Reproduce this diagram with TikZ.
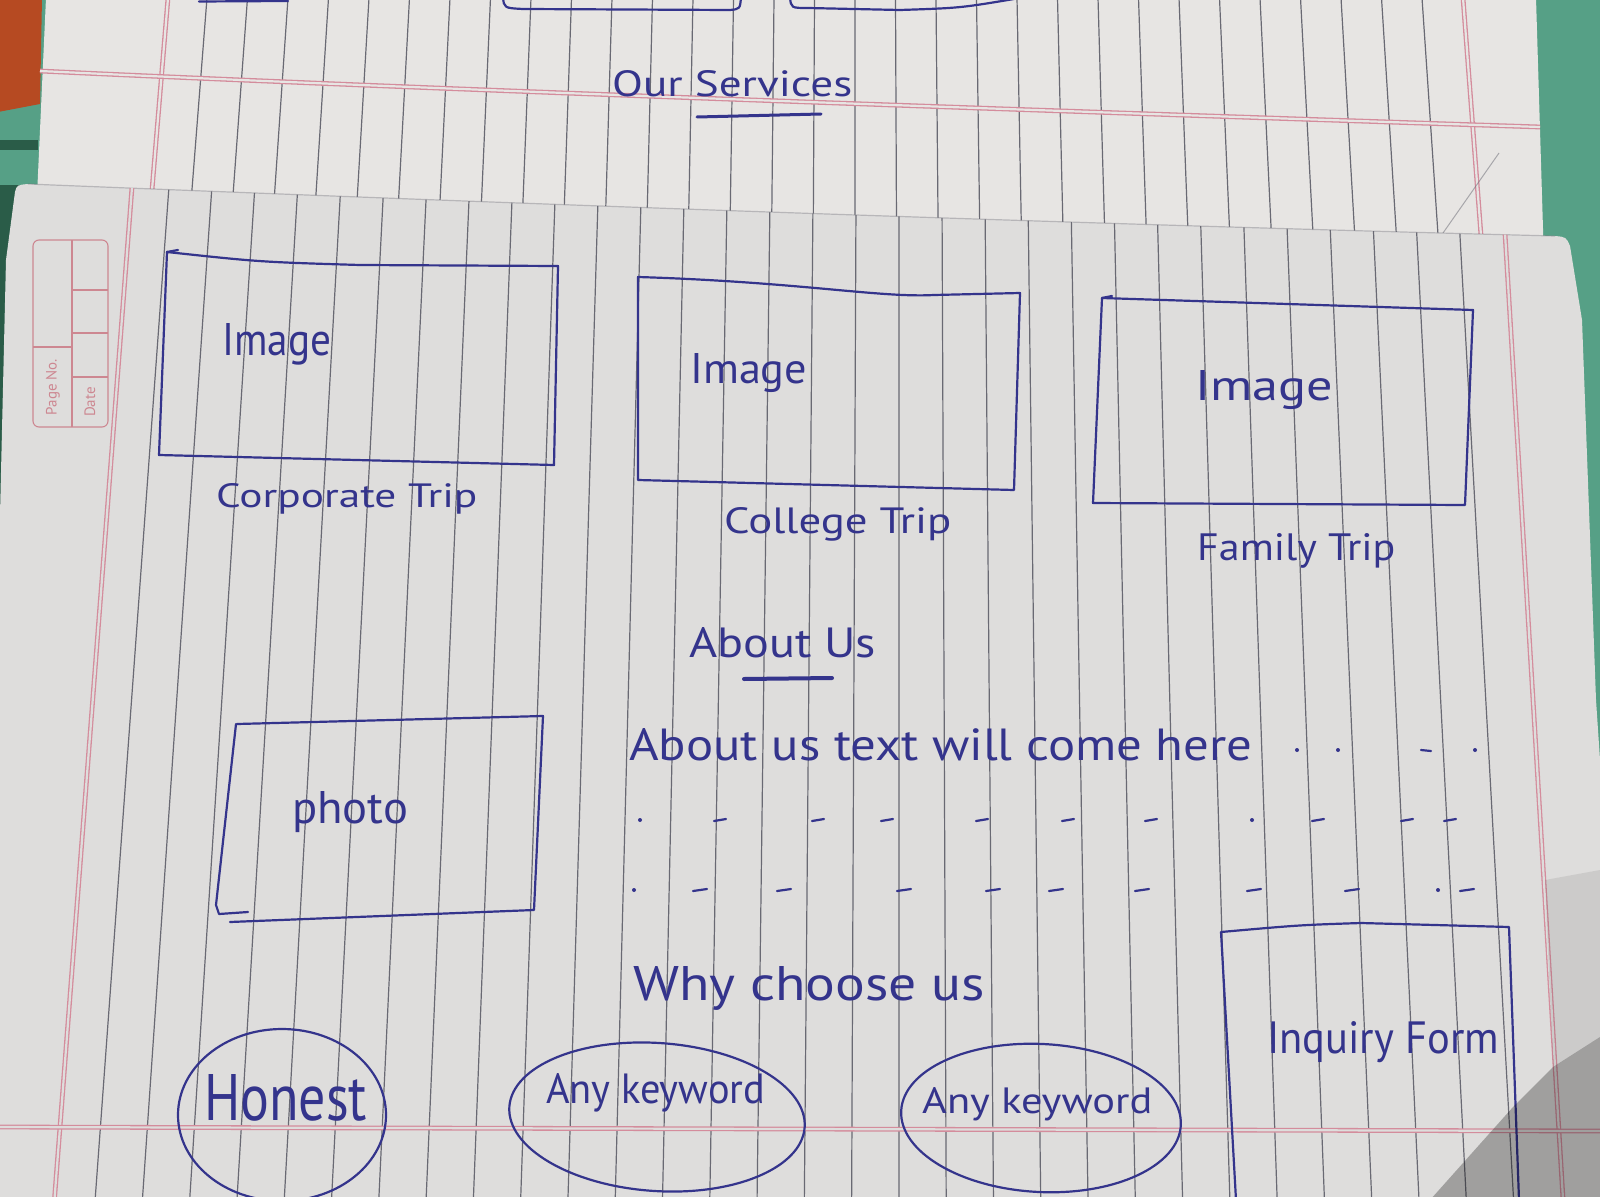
\documentclass[tikz,border=0pt]{standalone}
\usepackage{fontspec}
\setmainfont{PT Sans}
\usepackage{graphicx}
\definecolor{cloth}{RGB}{86,160,134}
\definecolor{clothdark}{RGB}{42,92,72}
\definecolor{rust}{RGB}{182,74,34}
\definecolor{sheetA}{RGB}{231,229,227}
\definecolor{sheetB}{RGB}{222,221,220}
\definecolor{ruleline}{RGB}{105,105,115}
\definecolor{marginline}{RGB}{212,140,156}
\definecolor{ink}{RGB}{52,52,140}
\definecolor{printred}{RGB}{205,135,145}
% handwritten label squeezed into a given width and height
\newcommand{\hw}[3]{\resizebox{#1pt}{#2pt}{#3}}
% outline of the lower sheet
\newcommand{\sheetBpath}{(15,192) .. controls (17,185) .. (28,184) .. controls (400,199) and (1000,222) .. (1555,236) .. controls (1566,237) .. (1570,246) -- (1582,320) -- (1596,700) -- (1600,760) -- (1600,1200) -- (-2,1200) -- (-2,600) -- (6,260) -- cycle}
\begin{document}
\begin{tikzpicture}[x=1pt,y=-1pt,
  rulestroke/.style={draw=ruleline, line width=1.2pt},
  marginA/.style={draw=marginline, line width=1.3pt, double=sheetA, double distance=2.2pt},
  marginB/.style={draw=marginline, line width=1.3pt, double=sheetB, double distance=2.2pt},
  pen/.style={draw=ink, line width=2.2pt, line cap=round, line join=round},
  lbl/.style={text=ink, inner sep=0pt, anchor=base west},
  printbox/.style={draw=printred, line width=1.1pt},
  printtxt/.style={text=printred, inner sep=0pt, font=\fontsize{15}{15}\selectfont, rotate=90}
]
\useasboundingbox (0,0) rectangle (1600,1196);

% table cloth and the corner of a bag
\fill[cloth] (0,0) rectangle (1600,1196);
\fill[rust] (-2,-2) -- (42,-2) -- (40,104) -- (-2,112) -- cycle;
\fill[clothdark] (-2,140) rectangle (38,150);
\fill[clothdark] (-2,185) -- (20,185) -- (8,260) -- (0,600) -- (-2,600) -- cycle;

% ---------- upper sheet ----------
\fill[sheetA] (46,-2) -- (1536,-2) -- (1544,262) -- (34,262) -- cycle;
\foreach \i in {0,...,30} {
  \pgfmathsetmacro{\xt}{207+40.5*\i}
  \pgfmathsetmacro{\xb}{\xt+(-15+0.023*(\xt-207))*1.38}
  \draw[rulestroke] (\xt,-2) -- (\xb,262);
}
\draw[marginA] (168,-2) -- (146,262);
\draw[marginA] (1463,-2) -- (1483,262);
\draw[marginA] (40,71) .. controls (400,88) and (900,106) .. (1540,127);
\draw[draw=ruleline, line width=1pt, opacity=.5] (1499,153) -- (1443,233);

% section heading and the boxes above it
\node[lbl] (services) at (612,97) {\hw{240}{26}{Our Services}};
\draw[pen, line width=3pt] (697,117) -- (821,114);
\draw[pen] (199,1.5) -- (288,1);
\draw[pen] (503,-3) .. controls (504,8) .. (523,9) -- (730,10) .. controls (740,9) .. (741,-3);
\draw[pen] (790,-3) .. controls (791,8) .. (808,8) -- (900,10) .. controls (960,8) .. (1014,-1);

% ---------- lower sheet ----------
\fill[sheetB] \sheetBpath;
\draw[ruleline, line width=1.2pt, opacity=.35] (28,184) .. controls (400,199) and (1000,222) .. (1555,236);
\begin{scope}
  \clip \sheetBpath;
  \foreach \i in {0,...,30} {
    \pgfmathsetmacro{\xa}{168+43*\i}
    \draw[rulestroke] ({900+(\xa-900)*0.995},150) -- ({900+(\xa-900)*1.0996},1200);
  }
  \draw[marginB] ({900+(131-900)*0.995},150) -- ({900+(131-900)*1.0996},1200);
  \draw[marginB] ({900+(1503-900)*0.995},150) -- ({900+(1503-900)*1.0996},1200);
  \draw[marginB] (-5,1127) -- (1605,1131);
\end{scope}

% page number / date box printed in the margin
\draw[printbox, rounded corners=6pt] (33,240) rectangle (108,427);
\draw[printbox] (72,240) -- (72,427);
\draw[printbox] (72,290) -- (108,290) (72,333) -- (108,333) (72,377) -- (108,377);
\draw[printbox] (33,347) -- (72,347);
\node[printtxt] (pageno) at (53,387) {Page No.};
\node[printtxt] (date) at (90,402) {Date};

% service cards
\draw[pen] (167,252) .. controls (260,262) .. (360,265) -- (558,266) -- (554,465) -- (159,455) -- cycle;
\draw[pen] (167,252) -- (178,250);
\node[lbl] (img1) at (222,355) {\hw{109}{32}{Image}};
\node[lbl] (corp) at (216,507) {\hw{261}{24}{Corporate Trip}};

\draw[pen] (638,277) .. controls (800,282) and (880,298) .. (934,295) -- (1020,293) -- (1014,490) -- (638,480) -- cycle;
\node[lbl] (img2) at (690,383) {\hw{117}{30}{Image}};
\node[lbl] (college) at (724,533) {\hw{227}{26}{College Trip}};

\draw[pen] (1102,298) -- (1473,310) -- (1465,505) -- (1093,503) -- cycle;
\draw[pen] (1102,298) -- (1112,296);
\node[lbl] (img3) at (1195,400) {\hw{138}{30}{Image}};
\node[lbl] (family) at (1197,560) {\hw{198}{27}{Family Trip}};

% about us
\node[lbl] (about) at (689,657) {\hw{187}{30}{About Us}};
\draw[pen, line width=4pt] (744,679) -- (832,678);
\draw[pen] (237,724) -- (543,716) -- (534,910) -- (230,922);
\draw[pen] (236,724) -- (216,905) -- (219,914) -- (248,912);
\node[lbl] (photo) at (292,823) {\hw{116}{32}{photo}};
\node[lbl] (abouttext) at (629,760) {\hw{623}{32}{About us text will come here}};

% placeholder marks for the rest of the paragraph
\foreach \x in {1297,1338,1475} \fill[ink] (\x,750) circle (2);
\draw[pen] (1421,750) -- (1431,751);
\foreach \x in {640,1252} \fill[ink] (\x,820) circle (2);
\foreach \x in {720,818,887,982,1068,1151,1318,1407,1450}
  \draw[pen] (\x-6,821) -- (\x+6,819);
\foreach \x in {634,1438} \fill[ink] (\x,890) circle (2);
\foreach \x in {700,784,904,993,1056,1142,1254,1352,1467}
  \draw[pen] (\x-7,891) -- (\x+7,889);

% why choose us
\node[lbl] (why) at (633,1000) {\hw{352}{34}{Why choose us}};
\draw[pen] (282,1115) ellipse [x radius=104, y radius=86];
\node[lbl] (honest) at (204,1120) {\hw{163}{46}{Honest}};
\draw[pen, rotate around={-4:(657,1117)}] (657,1117) ellipse [x radius=148, y radius=74];
\node[lbl] (kw1) at (546,1103) {\hw{219}{30}{Any keyword}};
\draw[pen, rotate around={-3:(1041,1118)}] (1041,1118) ellipse [x radius=140, y radius=74];
\node[lbl] (kw2) at (922,1113) {\hw{230}{26}{Any keyword}};

% enquiry form
\draw[pen] (1236,1200) -- (1221,932) .. controls (1300,925) .. (1361,923) -- (1509,927) -- (1519,1200);
\node[lbl] (inquiry) at (1267,1053) {\hw{232}{32}{Inquiry Form}};

% shadow across the lower right corner
\fill[black, opacity=.28] (1430,1200) -- (1513,1107) -- (1553,1067) -- (1600,1037) -- (1600,1200) -- cycle;
\fill[black, opacity=.08] (1545,880) -- (1600,870) -- (1600,1037) -- (1553,1067) -- cycle;
\end{tikzpicture}
\end{document}
